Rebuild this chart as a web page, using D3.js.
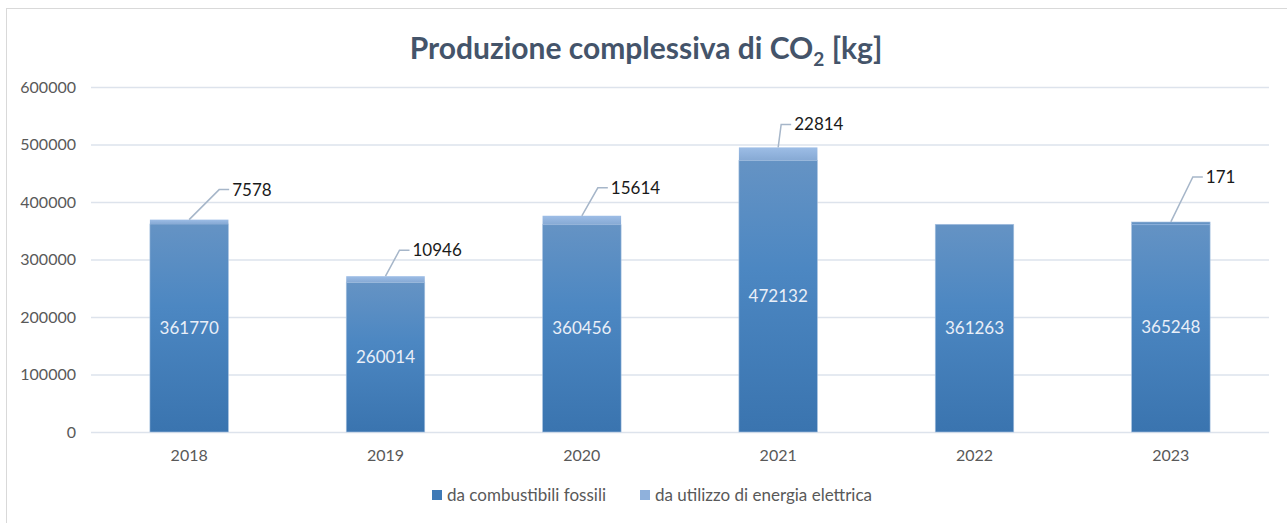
<!DOCTYPE html>
<html><head><meta charset="utf-8">
<script src="https://cdn.jsdelivr.net/npm/d3@7"></script>
<style>body{margin:0;background:#fff}svg{display:block}</style>
</head><body><svg id="c" width="1287" height="523"></svg>
<script>
const years = ["2018","2019","2020","2021","2022","2023"];
const fossili = [361770, 260014, 360456, 472132, 361263, 365248];
const elettrica = [7578, 10946, 15614, 22814, 0, 171];
const yTicks = [0, 100000, 200000, 300000, 400000, 500000, 600000];
const seriesNames = ["da combustibili fossili", "da utilizzo di energia elettrica"];
// leader-label offsets (dx, dy) from the bar top
const labelDx = [30, 14, 16, 3, 0, 22];
const labelDy = [-30, -26, -28, -23, 0, -45];

const svg = d3.select("#c");
const font = "Lato, 'Open Sans', sans-serif";
const defs = svg.append("defs");
const g1 = defs.append("linearGradient").attr("id","gF").attr("x1",0).attr("y1",1).attr("x2",0).attr("y2",0);
g1.append("stop").attr("offset","0%").attr("stop-color","#3a74af");
g1.append("stop").attr("offset","60%").attr("stop-color","#4c87c2");
g1.append("stop").attr("offset","100%").attr("stop-color","#6593c4");
const g2 = defs.append("linearGradient").attr("id","gE").attr("x1",0).attr("y1",1).attr("x2",0).attr("y2",0);
g2.append("stop").attr("offset","0%").attr("stop-color","#86a9d4");
g2.append("stop").attr("offset","100%").attr("stop-color","#9dbde6");

// frame
svg.append("rect").attr("x",6.5).attr("y",8.5).attr("width",1300).attr("height",600)
  .attr("fill","none").attr("stroke","#d9d9d9");

const x = d3.scaleBand().domain(years).range([91,1269]).paddingInner(0.6).paddingOuter(0.3);
const y = d3.scaleLinear().domain([0,600000]).range([432,87]);

// grid
svg.append("g").selectAll("line").data(yTicks).join("line")
  .attr("x1",91).attr("x2",1269).attr("y1",d=>y(d)+0.5).attr("y2",d=>y(d)+0.5)
  .attr("stroke","#dde3ec").attr("stroke-width",1.5);

// y axis
const ya = svg.append("g").attr("transform","translate(91,0)")
  .call(d3.axisLeft(y).tickValues(yTicks).tickSize(0).tickPadding(15).tickFormat(d3.format("d")));
ya.select(".domain").remove();
ya.selectAll("text").attr("font-family",font).attr("font-size",16).attr("fill","#595959");

// x axis
const xa = svg.append("g").attr("transform","translate(0,432)")
  .call(d3.axisBottom(x).tickSize(0).tickPadding(18));
xa.select(".domain").remove();
xa.selectAll("text").attr("font-family",font).attr("font-size",16).attr("fill","#595959");

// bars
svg.append("g").selectAll("rect").data(years).join("rect")
  .attr("x",d=>x(d)).attr("width",x.bandwidth())
  .attr("y",(d,i)=>y(fossili[i])).attr("height",(d,i)=>y(0)-y(fossili[i]))
  .attr("fill","url(#gF)").attr("stroke","#a9c3e2").attr("stroke-width",0.6);
svg.append("g").selectAll("rect").data(years).join("rect")
  .filter((d,i)=>elettrica[i]>0)
  .attr("x",d=>x(d)).attr("width",x.bandwidth())
  .attr("y",(d,i)=>y(fossili[i]+elettrica[i])).attr("height",(d,i)=>Math.max(0.8,y(fossili[i])-y(fossili[i]+elettrica[i])))
  .attr("fill","url(#gE)");

// inside labels
svg.append("g").selectAll("text").data(years).join("text")
  .attr("x",d=>x(d)+x.bandwidth()/2).attr("y",(d,i)=>(y(0)+y(fossili[i]))/2)
  .attr("dy","0.35em").attr("text-anchor","middle")
  .attr("font-family",font).attr("font-size",17).attr("fill","#e9eff8")
  .text((d,i)=>fossili[i]);

// leader labels
const lg = svg.append("g");
years.forEach((d,i)=>{
  if(!(elettrica[i]>0)) return;
  const cx = x(d)+x.bandwidth()/2, ty = y(fossili[i]+elettrica[i]);
  const ex = cx+labelDx[i], ey = ty+labelDy[i];
  lg.append("path").attr("d",`M${cx},${ty}L${ex},${ey}L${ex+10},${ey}`)
    .attr("fill","none").attr("stroke","#a6b6c9").attr("stroke-width",1.5);
  lg.append("text").attr("x",ex+13).attr("y",ey).attr("dy","0.35em")
    .attr("font-family",font).attr("font-size",17).attr("fill","#1a1a1a").text(elettrica[i]);
});

// title
const t = svg.append("text").attr("x",646).attr("y",59).attr("text-anchor","middle")
  .attr("font-family",font).attr("font-size",30).attr("font-weight","bold").attr("fill","#44546a");
t.append("tspan").text("Produzione complessiva di CO");
t.append("tspan").attr("font-size",19).attr("dy",7).text("2");
t.append("tspan").attr("dy",-7).text(" [kg]");

// legend
const legColors = ["#3f7ab6","#8fb1dc"];
const legX = [432, 640];
const leg = svg.append("g");
seriesNames.forEach((n,i)=>{
  leg.append("rect").attr("x",legX[i]).attr("y",490).attr("width",10).attr("height",10).attr("fill",legColors[i]);
  leg.append("text").attr("x",legX[i]+15).attr("y",495).attr("dy","0.35em")
    .attr("font-family",font).attr("font-size",17).attr("fill","#595959").text(n);
});
</script></body></html>
